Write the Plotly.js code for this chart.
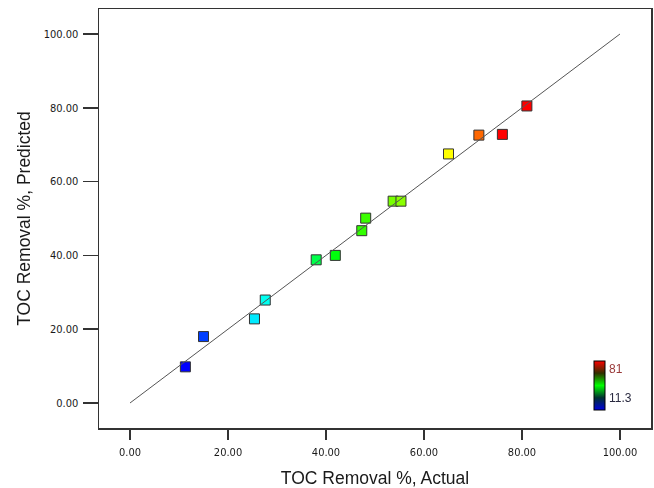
<!DOCTYPE html>
<html><head><meta charset="utf-8">
<script src="https://cdn.plot.ly/plotly-3.0.1.min.js"></script>
<style>html,body{margin:0;padding:0;background:#fff}</style>
</head><body>
<div id="chart" style="width:654px;height:488px"></div>
<script>
// Actual vs predicted TOC removal (%)
const actual =    [11.3, 15.0, 25.4, 27.6, 38.0, 41.9, 47.3, 48.1, 53.7, 55.3, 65.0, 71.2, 76.0, 81.0];
const predicted = [ 9.8, 18.0, 22.8, 27.9, 38.8, 40.0, 46.7, 50.1, 54.7, 54.7, 67.5, 72.6, 72.8, 80.5];
const lineX = [0, 100];
const lineY = [0, 100];
const colorMin = 11.3, colorMax = 81;
const tickVals = [0, 20, 40, 60, 80, 100];

const pointScale = [[0,'#0000ff'],[0.22,'#00ffff'],[0.45,'#00ff00'],[0.62,'#80ff00'],[0.77,'#ffff00'],[0.86,'#ff6600'],[0.92,'#ff0000'],[1,'#ff0000']];
const barScale = [[0,'#0000e0'],[0.25,'#003030'],[0.5,'#00ff00'],[0.75,'#303000'],[1,'#ff0000']];

const tickFont = {family:'"Liberation Sans Narrow", "DejaVu Sans Condensed", "Liberation Sans", Arial, sans-serif', size:11, color:'#1a1a1a'};
const titleFont = {family:'"Liberation Sans", Arial, sans-serif', size:17.5, color:'#1a1a1a'};

const traces = [
  {
    x: actual, y: predicted, type:'scatter', mode:'markers', hoverinfo:'skip',
    marker:{symbol:'square', size:10, color:actual, cmin:colorMin, cmax:colorMax,
            colorscale:pointScale, showscale:false, line:{color:'#333', width:1}}
  },
  {
    x: actual, y: predicted, type:'scatter', mode:'markers', hoverinfo:'skip', opacity:0,
    marker:{size:1, color:actual, cmin:colorMin, cmax:colorMax, colorscale:barScale, showscale:true,
      colorbar:{x:0.897, xanchor:'left', y:0.1014, yanchor:'middle', len:49, lenmode:'pixels',
        thickness:11, thicknessmode:'pixels', outlinecolor:'#000', outlinewidth:1,
        xpad:0, ypad:0, showticklabels:false, ticks:''}}
  },
  {
    x: lineX, y: lineY, type:'scatter', mode:'lines', hoverinfo:'skip',
    line:{color:'#555', width:1}
  }
];

const layout = {
  width:654, height:488,
  margin:{l:99, r:3, t:9, b:60},
  paper_bgcolor:'#fff', plot_bgcolor:'#fff',
  showlegend:false,
  xaxis:{range:[-6.33,106.33], tickvals:tickVals, tickformat:'.2f', showgrid:false, zeroline:false,
    showline:true, mirror:true, linecolor:'#333', linewidth:1.5,
    ticks:'outside', ticklen:10, tickcolor:'#333', tickwidth:1.5, tickfont:tickFont, ticklabelstandoff:3,
    title:{text:'TOC Removal %, Actual', font:titleFont, standoff:14}},
  yaxis:{range:[-6.78,106.78], tickvals:tickVals, tickformat:'.2f', showgrid:false, zeroline:false,
    showline:true, mirror:true, linecolor:'#333', linewidth:1.5,
    ticks:'outside', ticklen:15, tickcolor:'#333', tickwidth:1.5, tickfont:tickFont, ticklabelstandoff:2,
    title:{text:'TOC Removal %, Predicted', font:titleFont, standoff:8}},
  annotations:[
    {xref:'paper', yref:'paper', x:(607-99)/552, y:(428-369)/419, xanchor:'left', yanchor:'middle',
     text:String(colorMax), showarrow:false, font:{family:'"Liberation Sans", Arial, sans-serif', size:12, color:'#9a3a3a'}},
    {xref:'paper', yref:'paper', x:(607-99)/552, y:(428-398)/419, xanchor:'left', yanchor:'middle',
     text:String(colorMin), showarrow:false, font:{family:'"Liberation Sans", Arial, sans-serif', size:12, color:'#2a2a40'}}
  ]
};

Plotly.newPlot('chart', traces, layout, {staticPlot:true, displayModeBar:false});
</script>
</body></html>
